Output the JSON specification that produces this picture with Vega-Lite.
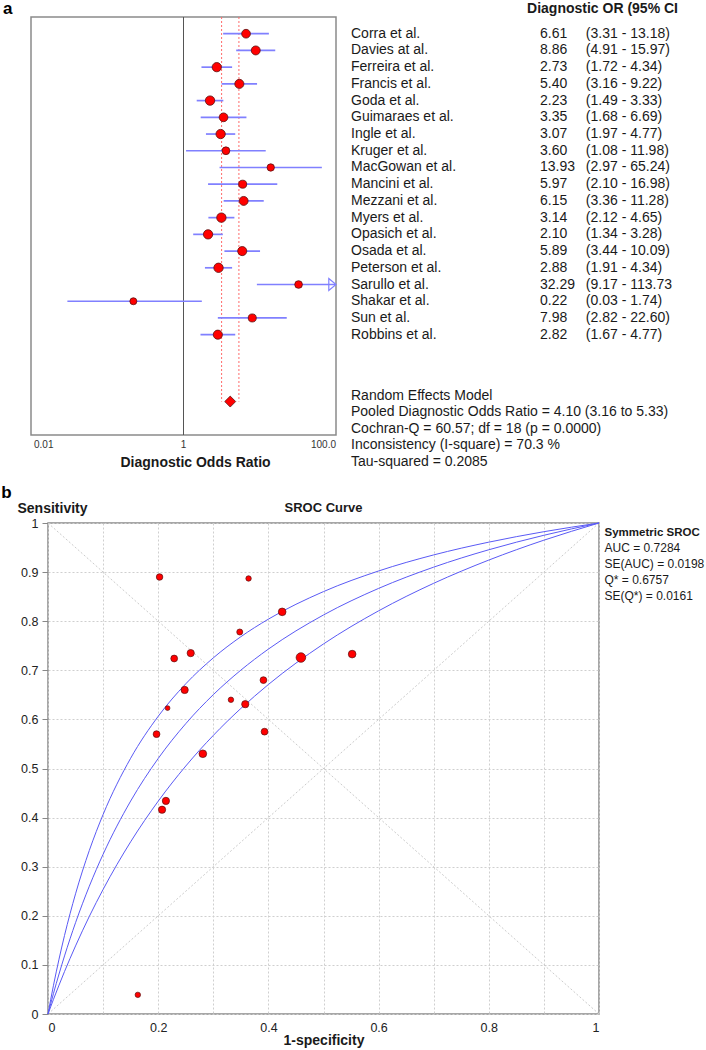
{
  "$schema": "https://vega.github.io/schema/vega-lite/v6.json",
  "padding": 0,
  "background": "white",
  "config": {
    "font": "Liberation Sans",
    "view": {"stroke": null},
    "axis": {"labelFont": "Liberation Sans", "titleFont": "Liberation Sans", "labelColor": "#222", "titleColor": "#1a1a1a"},
    "title": {"font": "Liberation Sans", "color": "#1a1a1a"},
    "text": {"font": "Liberation Sans", "color": "#1a1a1a"}
  },
  "datasets": {
    "studies": [
      {"study": "Corra et al.", "or": 6.61, "lower": 3.31, "upper": 13.18, "ci": "(3.31 - 13.18)", "w": 3.00, "fpr": 0.348, "sens": 0.778, "w2": 11},
      {"study": "Davies at al.", "or": 8.86, "lower": 4.91, "upper": 15.97, "ci": "(4.91 - 15.97)", "w": 3.34, "fpr": 0.229, "sens": 0.724, "w2": 14},
      {"study": "Ferreira et al.", "or": 2.73, "lower": 1.72, "upper": 4.34, "ci": "(1.72 - 4.34)", "w": 3.78, "fpr": 0.207, "sens": 0.416, "w2": 16},
      {"study": "Francis et al.", "or": 5.40, "lower": 3.16, "upper": 9.22, "ci": "(3.16 - 9.22)", "w": 3.53, "fpr": 0.197, "sens": 0.570, "w2": 14},
      {"study": "Goda et al.", "or": 2.23, "lower": 1.49, "upper": 3.33, "ci": "(1.49 - 3.33)", "w": 3.99, "fpr": 0.552, "sens": 0.733, "w2": 18},
      {"study": "Guimaraes et al.", "or": 3.35, "lower": 1.68, "upper": 6.69, "ci": "(1.68 - 6.69)", "w": 3.00, "fpr": 0.391, "sens": 0.680, "w2": 14},
      {"study": "Ingle et al.", "or": 3.07, "lower": 1.97, "upper": 4.77, "ci": "(1.97 - 4.77)", "w": 3.86, "fpr": 0.358, "sens": 0.631, "w2": 16},
      {"study": "Kruger et al.", "or": 3.60, "lower": 1.08, "upper": 11.98, "ci": "(1.08 - 11.98)", "w": 1.71, "fpr": 0.332, "sens": 0.640, "w2": 9},
      {"study": "MacGowan et al.", "or": 13.93, "lower": 2.97, "upper": 65.24, "ci": "(2.97 - 65.24)", "w": 1.21, "fpr": 0.364, "sens": 0.887, "w2": 9},
      {"study": "Mancini et al.", "or": 5.97, "lower": 2.10, "upper": 16.98, "ci": "(2.10 - 16.98)", "w": 2.03, "fpr": 0.217, "sens": 0.623, "w2": 7},
      {"study": "Mezzani et al.", "or": 6.15, "lower": 3.36, "upper": 11.28, "ci": "(3.36 - 11.28)", "w": 3.29, "fpr": 0.425, "sens": 0.819, "w2": 18},
      {"study": "Myers et al.", "or": 3.14, "lower": 2.12, "upper": 4.65, "ci": "(2.12 - 4.65)", "w": 4.02, "fpr": 0.459, "sens": 0.726, "w2": 28},
      {"study": "Opasich et al.", "or": 2.10, "lower": 1.34, "upper": 3.28, "ci": "(1.34 - 3.28)", "w": 3.84, "fpr": 0.393, "sens": 0.575, "w2": 14},
      {"study": "Osada et al.", "or": 5.89, "lower": 3.44, "upper": 10.09, "ci": "(3.44 - 10.09)", "w": 3.52, "fpr": 0.248, "sens": 0.660, "w2": 16},
      {"study": "Peterson et al.", "or": 2.88, "lower": 1.91, "upper": 4.34, "ci": "(1.91 - 4.34)", "w": 3.96, "fpr": 0.281, "sens": 0.530, "w2": 18},
      {"study": "Sarullo et al.", "or": 32.29, "lower": 9.17, "upper": 113.73, "ci": "(9.17 - 113.73", "w": 1.61, "fpr": 0.2025, "sens": 0.890, "w2": 13},
      {"study": "Shakar et al.", "or": 0.22, "lower": 0.03, "upper": 1.74, "ci": "(0.03 - 1.74)", "w": 0.78, "fpr": 0.163, "sens": 0.039, "w2": 9},
      {"study": "Sun et al.", "or": 7.98, "lower": 2.82, "upper": 22.60, "ci": "(2.82 - 22.60)", "w": 2.04, "fpr": 0.259, "sens": 0.735, "w2": 16},
      {"study": "Robbins et al.", "or": 2.82, "lower": 1.67, "upper": 4.77, "ci": "(1.67 - 4.77)", "w": 3.57, "fpr": 0.214, "sens": 0.434, "w2": 16}
    ],
    "pooled": [
      {"label": "Pooled", "or": 4.10, "lower": 3.16, "upper": 5.33}
    ],
    "notes": [
      {"lines": ["Random Effects Model", "Pooled Diagnostic Odds Ratio = 4.10 (3.16 to 5.33)", "Cochran-Q = 60.57; df =  18 (p = 0.0000)", "Inconsistency (I-square) = 70.3 %", "Tau-squared = 0.2085"],
       "sroc": ["AUC = 0.7284", "SE(AUC) = 0.0198", "Q* = 0.6757", "SE(Q*) = 0.0161"]}
    ],
    "sroc": [
      {"curve": "upper", "fpr": 0, "sens": 0},
      {"curve": "upper", "fpr": 0.005, "sens": 0.030},
      {"curve": "upper", "fpr": 0.01, "sens": 0.0586},
      {"curve": "upper", "fpr": 0.02, "sens": 0.1117},
      {"curve": "upper", "fpr": 0.03, "sens": 0.1600},
      {"curve": "upper", "fpr": 0.05, "sens": 0.2448},
      {"curve": "upper", "fpr": 0.075, "sens": 0.3331},
      {"curve": "upper", "fpr": 0.1, "sens": 0.4063},
      {"curve": "upper", "fpr": 0.15, "sens": 0.5209},
      {"curve": "upper", "fpr": 0.2, "sens": 0.6063},
      {"curve": "upper", "fpr": 0.25, "sens": 0.6725},
      {"curve": "upper", "fpr": 0.3, "sens": 0.7253},
      {"curve": "upper", "fpr": 0.35, "sens": 0.7684},
      {"curve": "upper", "fpr": 0.4, "sens": 0.8042},
      {"curve": "upper", "fpr": 0.5, "sens": 0.8603},
      {"curve": "upper", "fpr": 0.6, "sens": 0.9023},
      {"curve": "upper", "fpr": 0.7, "sens": 0.9350},
      {"curve": "upper", "fpr": 0.8, "sens": 0.9610},
      {"curve": "upper", "fpr": 0.9, "sens": 0.9823},
      {"curve": "upper", "fpr": 1, "sens": 1},
      {"curve": "mid", "fpr": 0, "sens": 0},
      {"curve": "mid", "fpr": 0.005, "sens": 0.0213},
      {"curve": "mid", "fpr": 0.01, "sens": 0.0420},
      {"curve": "mid", "fpr": 0.02, "sens": 0.0814},
      {"curve": "mid", "fpr": 0.03, "sens": 0.1183},
      {"curve": "mid", "fpr": 0.05, "sens": 0.1860},
      {"curve": "mid", "fpr": 0.075, "sens": 0.2603},
      {"curve": "mid", "fpr": 0.1, "sens": 0.3253},
      {"curve": "mid", "fpr": 0.15, "sens": 0.4337},
      {"curve": "mid", "fpr": 0.2, "sens": 0.5204},
      {"curve": "mid", "fpr": 0.25, "sens": 0.5913},
      {"curve": "mid", "fpr": 0.3, "sens": 0.6504},
      {"curve": "mid", "fpr": 0.35, "sens": 0.7003},
      {"curve": "mid", "fpr": 0.4, "sens": 0.7432},
      {"curve": "mid", "fpr": 0.5, "sens": 0.8127},
      {"curve": "mid", "fpr": 0.6, "sens": 0.8668},
      {"curve": "mid", "fpr": 0.7, "sens": 0.9101},
      {"curve": "mid", "fpr": 0.8, "sens": 0.9455},
      {"curve": "mid", "fpr": 0.9, "sens": 0.9750},
      {"curve": "mid", "fpr": 1, "sens": 1},
      {"curve": "lower", "fpr": 0, "sens": 0},
      {"curve": "lower", "fpr": 0.005, "sens": 0.0151},
      {"curve": "lower", "fpr": 0.01, "sens": 0.0300},
      {"curve": "lower", "fpr": 0.02, "sens": 0.0588},
      {"curve": "lower", "fpr": 0.03, "sens": 0.0865},
      {"curve": "lower", "fpr": 0.05, "sens": 0.1387},
      {"curve": "lower", "fpr": 0.075, "sens": 0.1988},
      {"curve": "lower", "fpr": 0.1, "sens": 0.2537},
      {"curve": "lower", "fpr": 0.15, "sens": 0.3507},
      {"curve": "lower", "fpr": 0.2, "sens": 0.4334},
      {"curve": "lower", "fpr": 0.25, "sens": 0.5050},
      {"curve": "lower", "fpr": 0.3, "sens": 0.5674},
      {"curve": "lower", "fpr": 0.35, "sens": 0.6223},
      {"curve": "lower", "fpr": 0.4, "sens": 0.6711},
      {"curve": "lower", "fpr": 0.5, "sens": 0.7537},
      {"curve": "lower", "fpr": 0.6, "sens": 0.8211},
      {"curve": "lower", "fpr": 0.7, "sens": 0.8772},
      {"curve": "lower", "fpr": 0.8, "sens": 0.9245},
      {"curve": "lower", "fpr": 0.9, "sens": 0.9650},
      {"curve": "lower", "fpr": 1, "sens": 1}
    ]
  },
  "columns": 1,
  "spacing": 12,
  "resolve": {"scale": {"size": "independent"}},
  "concat": [
    {
      "hconcat": [
        {
          "width": 288,
          "height": 418,
          "layer": [
            {
              "data": {"name": "pooled"},
              "mark": {"type": "rect", "filled": false, "stroke": "#8a8a8a", "strokeWidth": 1.5},
              "encoding": {
                "x": {"datum": 0.01, "type": "quantitative",
                  "scale": {"type": "log", "domain": [0.01, 100], "range": [-17, 288]},
                  "axis": null},
                "x2": {"datum": 100},
                "y": {"datum": "_top", "type": "nominal", "scale": {"type": "point", "padding": 0, "domain": ["_top", "Corra et al.", "Davies at al.", "Ferreira et al.", "Francis et al.", "Goda et al.", "Guimaraes et al.", "Ingle et al.", "Kruger et al.", "MacGowan et al.", "Mancini et al.", "Mezzani et al.", "Myers et al.", "Opasich et al.", "Osada et al.", "Peterson et al.", "Sarullo et al.", "Shakar et al.", "Sun et al.", "Robbins et al.", "_g1", "_g2", "_g3", "Pooled", "_g4", "_bottom"]}, "axis": null},
                "y2": {"datum": "_bottom"}
              }
            },
            {
              "data": {"name": "pooled"},
              "mark": {"type": "rule", "color": "#555555", "strokeWidth": 1},
              "encoding": {
                "x": {"datum": 1, "type": "quantitative"},
                "y": {"datum": "_top", "type": "nominal"},
                "y2": {"datum": "_bottom"}
              }
            },
            {
              "data": {"name": "pooled"},
              "mark": {"type": "rule", "color": "#ff6b6b", "strokeWidth": 1, "strokeDash": [2, 2]},
              "encoding": {
                "x": {"field": "lower", "type": "quantitative"},
                "y": {"datum": "_top", "type": "nominal"},
                "y2": {"datum": "Pooled"}
              }
            },
            {
              "data": {"name": "pooled"},
              "mark": {"type": "rule", "color": "#ff6b6b", "strokeWidth": 1, "strokeDash": [2, 2]},
              "encoding": {
                "x": {"field": "upper", "type": "quantitative"},
                "y": {"datum": "_top", "type": "nominal"},
                "y2": {"datum": "Pooled"}
              }
            },
            {
              "data": {"name": "studies"},
              "mark": {"type": "rule", "color": "#8080ff", "strokeWidth": 1.7, "clip": true},
              "encoding": {
                "x": {"field": "lower", "type": "quantitative"},
                "x2": {"field": "upper"},
                "y": {"field": "study", "type": "nominal"}
              }
            },
            {
              "data": {"name": "studies"},
              "transform": [{"filter": "datum.upper > 100"}],
              "mark": {"type": "point", "shape": "M-2.4,-2L0,0L-2.4,2Z", "filled": false, "stroke": "#8080ff", "strokeWidth": 1.2, "size": 36, "opacity": 1},
              "encoding": {
                "x": {"datum": 100, "type": "quantitative"},
                "y": {"field": "study", "type": "nominal"}
              }
            },
            {
              "data": {"name": "studies"},
              "mark": {"type": "circle", "color": "#ff0000", "stroke": "#5a1010", "strokeWidth": 0.8, "opacity": 1},
              "encoding": {
                "x": {"field": "or", "type": "quantitative"},
                "y": {"field": "study", "type": "nominal"},
                "size": {"field": "w", "type": "quantitative", "scale": {"domain": [0.7, 4.1], "range": [48, 90], "zero": false}, "legend": null}
              }
            },
            {
              "data": {"name": "pooled"},
              "mark": {"type": "point", "shape": "diamond", "filled": true, "color": "#ff0000", "stroke": "#5a1010", "strokeWidth": 0.8, "size": 120, "opacity": 1},
              "encoding": {
                "x": {"field": "or", "type": "quantitative"},
                "y": {"field": "label", "type": "nominal"}
              }
            },
            {
              "data": {"name": "pooled"},
              "mark": {"type": "text", "align": "left", "baseline": "middle", "fontSize": 10, "color": "#333", "dx": 3, "dy": 10, "text": "0.01"},
              "encoding": {
                "x": {"datum": 0.01, "type": "quantitative"},
                "y": {"datum": "_bottom", "type": "nominal"}
              }
            },
            {
              "data": {"name": "pooled"},
              "mark": {"type": "text", "align": "center", "baseline": "middle", "fontSize": 10, "color": "#333", "dy": 10, "text": "1"},
              "encoding": {
                "x": {"datum": 1, "type": "quantitative"},
                "y": {"datum": "_bottom", "type": "nominal"}
              }
            },
            {
              "data": {"name": "pooled"},
              "mark": {"type": "text", "align": "right", "baseline": "middle", "fontSize": 10, "color": "#333", "dy": 10, "text": "100.0"},
              "encoding": {
                "x": {"datum": 100, "type": "quantitative"},
                "y": {"datum": "_bottom", "type": "nominal"}
              }
            },
            {
              "data": {"name": "pooled"},
              "mark": {"type": "text", "align": "center", "baseline": "middle", "fontSize": 14, "fontWeight": "bold", "dy": 28, "text": "Diagnostic Odds Ratio"},
              "encoding": {
                "x": {"datum": 1.44, "type": "quantitative"},
                "y": {"datum": "_bottom", "type": "nominal"}
              }
            },
            {
              "data": {"name": "pooled"},
              "mark": {"type": "text", "align": "left", "baseline": "middle", "fontSize": 17, "fontWeight": "bold", "color": "#000", "dy": -8, "text": "a"},
              "encoding": {
                "x": {"datum": 0.0043, "type": "quantitative"},
                "y": {"datum": "_top", "type": "nominal"}
              }
            }
          ]
        },
        {
          "width": 350,
          "height": 418,
          "layer": [
            {
              "data": {"name": "studies"},
              "mark": {"type": "text", "align": "left", "baseline": "middle", "fontSize": 14},
              "encoding": {
                "x": {"datum": 0, "type": "quantitative", "scale": {"domain": [0, 1]}, "axis": null},
                "y": {"field": "study", "type": "nominal", "scale": {"type": "point", "padding": 0, "domain": ["_top", "Corra et al.", "Davies at al.", "Ferreira et al.", "Francis et al.", "Goda et al.", "Guimaraes et al.", "Ingle et al.", "Kruger et al.", "MacGowan et al.", "Mancini et al.", "Mezzani et al.", "Myers et al.", "Opasich et al.", "Osada et al.", "Peterson et al.", "Sarullo et al.", "Shakar et al.", "Sun et al.", "Robbins et al.", "_g1", "_g2", "_g3", "Pooled", "_g4", "_bottom"]}, "axis": null},
                "text": {"field": "study"}
              }
            },
            {
              "data": {"name": "studies"},
              "mark": {"type": "text", "align": "left", "baseline": "middle", "fontSize": 14},
              "encoding": {
                "x": {"datum": 0.54, "type": "quantitative"},
                "y": {"field": "study", "type": "nominal"},
                "text": {"field": "or", "format": ".2f"}
              }
            },
            {
              "data": {"name": "studies"},
              "mark": {"type": "text", "align": "left", "baseline": "middle", "fontSize": 14},
              "encoding": {
                "x": {"datum": 0.671, "type": "quantitative"},
                "y": {"field": "study", "type": "nominal"},
                "text": {"field": "ci"}
              }
            },
            {
              "data": {"name": "pooled"},
              "mark": {"type": "text", "align": "left", "baseline": "middle", "fontSize": 14, "fontWeight": "bold", "dy": -8, "text": "Diagnostic OR (95% CI"},
              "encoding": {
                "x": {"datum": 0.503, "type": "quantitative"},
                "y": {"datum": "_top", "type": "nominal"}
              }
            },
            {
              "data": {"name": "notes"},
              "mark": {"type": "text", "align": "left", "baseline": "top", "fontSize": 14, "dy": 4, "lineHeight": 16.5},
              "encoding": {
                "x": {"datum": 0, "type": "quantitative"},
                "y": {"datum": "_g3", "type": "nominal"},
                "text": {"field": "lines"}
              }
            }
          ]
        }
      ],
      "spacing": 12,
      "resolve": {"scale": {"y": "shared"}}
    },
    {
      "width": 551,
      "height": 491,
      "view": {"stroke": "#8a8a8a", "strokeWidth": 1.5},
      "layer": [
        {
          "data": {"name": "pooled"},
          "mark": {"type": "rule", "color": "#cccccc", "strokeWidth": 1, "strokeDash": [2, 2]},
          "encoding": {
            "x": {"datum": 0, "type": "quantitative", "scale": {"domain": [0, 1], "nice": false},
              "axis": {"values": [0, 0.1, 0.2, 0.3, 0.4, 0.5, 0.6, 0.7, 0.8, 0.9, 1], "labelExpr": "round(datum.value * 10) % 2 == 0 ? format(datum.value, '~g') : ''", "labelOverlap": false, "ticks": false, "domain": false, "grid": true, "gridColor": "#cfcfcf", "gridDash": [2, 2], "labelFontSize": 12.5, "labelPadding": 7, "title": "1-specificity", "titleFontSize": 14, "titleFontWeight": "bold", "titlePadding": 0}},
            "y": {"datum": 0, "type": "quantitative", "scale": {"domain": [0, 1], "nice": false},
              "axis": {"values": [0, 0.1, 0.2, 0.3, 0.4, 0.5, 0.6, 0.7, 0.8, 0.9, 1], "format": "~g", "labelOverlap": false, "ticks": true, "tickSize": 6, "tickColor": "#888888", "domain": false, "grid": true, "gridColor": "#cfcfcf", "gridDash": [2, 2], "labelFontSize": 12.5, "labelPadding": 4, "title": "Sensitivity", "titleAngle": 0, "titleAlign": "left", "titleBaseline": "middle", "titleX": -31, "titleY": -15, "titleFontSize": 14, "titleFontWeight": "bold"}},
            "x2": {"datum": 1},
            "y2": {"datum": 1}
          }
        },
        {
          "data": {"name": "pooled"},
          "mark": {"type": "rule", "color": "#cccccc", "strokeWidth": 1, "strokeDash": [2, 2]},
          "encoding": {
            "x": {"datum": 0, "type": "quantitative"},
            "y": {"datum": 1, "type": "quantitative"},
            "x2": {"datum": 1},
            "y2": {"datum": 0}
          }
        },
        {
          "data": {"name": "sroc"},
          "mark": {"type": "line", "color": "#5a5af5", "strokeWidth": 1, "interpolate": "monotone"},
          "encoding": {
            "x": {"field": "fpr", "type": "quantitative"},
            "y": {"field": "sens", "type": "quantitative"},
            "detail": {"field": "curve", "type": "nominal"}
          }
        },
        {
          "data": {"name": "studies"},
          "mark": {"type": "circle", "color": "#ff0000", "stroke": "#5a1010", "strokeWidth": 0.7, "opacity": 1},
          "encoding": {
            "x": {"field": "fpr", "type": "quantitative"},
            "y": {"field": "sens", "type": "quantitative"},
            "size": {"field": "w2", "type": "quantitative", "scale": {"domain": [0, 28], "range": [0, 92], "zero": true}, "legend": null}
          }
        },
        {
          "data": {"name": "pooled"},
          "mark": {"type": "text", "align": "center", "baseline": "middle", "fontSize": 13, "fontWeight": "bold", "text": "SROC Curve"},
          "encoding": {
            "x": {"datum": 0.5, "type": "quantitative"},
            "y": {"datum": 1.0305, "type": "quantitative"}
          }
        },
        {
          "data": {"name": "pooled"},
          "mark": {"type": "text", "align": "left", "baseline": "middle", "fontSize": 11.5, "fontWeight": "bold", "text": "Symmetric SROC"},
          "encoding": {
            "x": {"datum": 1.01, "type": "quantitative"},
            "y": {"datum": 0.98, "type": "quantitative"}
          }
        },
        {
          "data": {"name": "notes"},
          "mark": {"type": "text", "align": "left", "baseline": "middle", "fontSize": 12, "lineHeight": 16},
          "encoding": {
            "x": {"datum": 1.01, "type": "quantitative"},
            "y": {"datum": 0.949, "type": "quantitative"},
            "text": {"field": "sroc"}
          }
        },
        {
          "data": {"name": "pooled"},
          "mark": {"type": "text", "align": "left", "baseline": "middle", "fontSize": 17, "fontWeight": "bold", "color": "#000", "text": "b"},
          "encoding": {
            "x": {"datum": -0.085, "type": "quantitative"},
            "y": {"datum": 1.062, "type": "quantitative"}
          }
        }
      ]
    }
  ]
}
